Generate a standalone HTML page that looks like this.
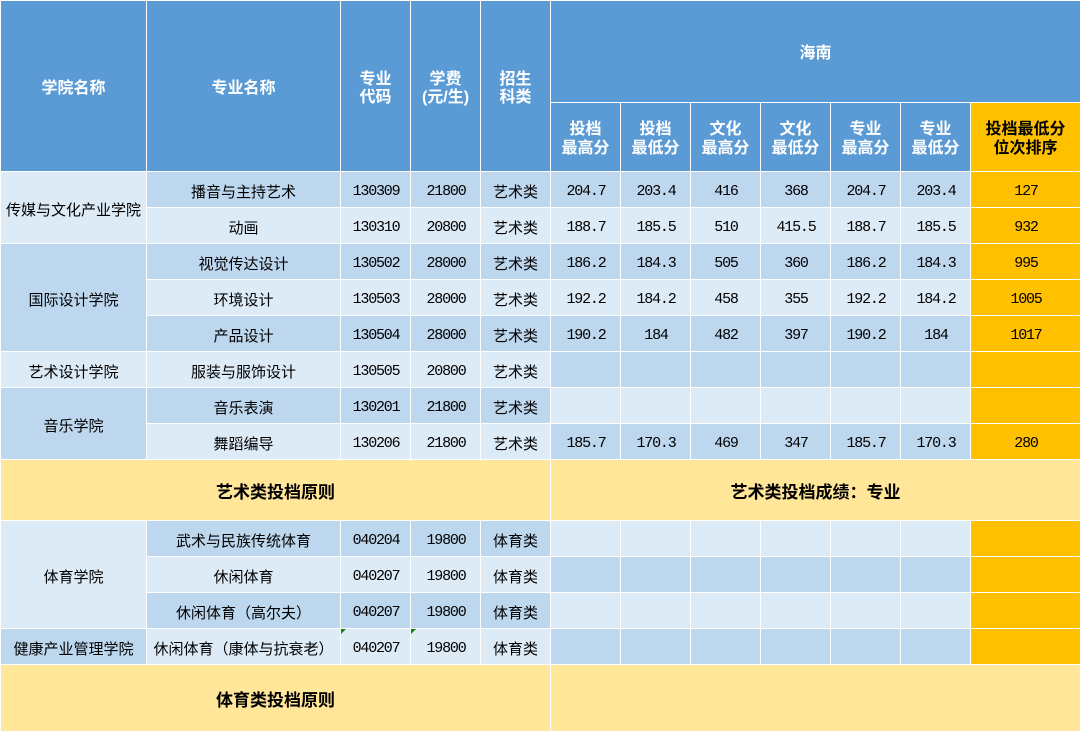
<!DOCTYPE html>
<html><head><meta charset="utf-8">
<style>
html,body{margin:0;padding:0;background:#fff;}
body{width:1081px;height:731px;position:relative;overflow:hidden;}
.c{position:absolute;display:flex;align-items:center;justify-content:center;text-align:center;font-family:"Liberation Sans","Noto Sans CJK SC",sans-serif;font-size:15px;color:#000;box-sizing:border-box;white-space:nowrap;padding-top:3px;}
.h{background:#5B9BD5;color:#fff;font-weight:bold;font-size:16px;line-height:18px;padding-top:5px;}
.s{line-height:19px;padding-top:4px;}
.D{background:#BDD7EE;}
.L{background:#DDEBF7;}
.O{background:#FFC000;}
.Y{background:#FFE699;font-weight:bold;font-size:17px;padding-top:0;}
.n{font-family:"Liberation Mono",monospace;font-size:15px;letter-spacing:-1.2px;padding-top:4px;padding-left:1px;}
.t{position:absolute;width:0;height:0;border-top:5px solid #128012;border-right:5px solid transparent;}
</style></head><body>

<!-- header -->
<div class="c h" style="left:1px;top:1px;width:145px;height:170px">学院名称</div>
<div class="c h" style="left:147px;top:1px;width:193px;height:170px">专业名称</div>
<div class="c h" style="left:341px;top:1px;width:69px;height:170px">专业<br>代码</div>
<div class="c h" style="left:411px;top:1px;width:69px;height:170px">学费<br>(元/生)</div>
<div class="c h" style="left:481px;top:1px;width:69px;height:170px">招生<br>科类</div>
<div class="c h" style="left:551px;top:1px;width:529px;height:101px">海南</div>
<div class="c h s" style="left:551px;top:103px;width:69px;height:68px">投档<br>最高分</div>
<div class="c h s" style="left:621px;top:103px;width:69px;height:68px">投档<br>最低分</div>
<div class="c h s" style="left:691px;top:103px;width:69px;height:68px">文化<br>最高分</div>
<div class="c h s" style="left:761px;top:103px;width:69px;height:68px">文化<br>最低分</div>
<div class="c h s" style="left:831px;top:103px;width:69px;height:68px">专业<br>最高分</div>
<div class="c h s" style="left:901px;top:103px;width:69px;height:68px">专业<br>最低分</div>
<div class="c h s O" style="left:971px;top:103px;width:109px;height:68px;color:#000;">投档最低分<br>位次排序</div>

<!-- college column -->
<div class="c L" style="left:1px;top:172px;width:145px;height:71px">传媒与文化产业学院</div>
<div class="c D" style="left:1px;top:244px;width:145px;height:107px">国际设计学院</div>
<div class="c L" style="left:1px;top:352px;width:145px;height:35px">艺术设计学院</div>
<div class="c D" style="left:1px;top:388px;width:145px;height:71px">音乐学院</div>
<div class="c L" style="left:1px;top:521px;width:145px;height:107px">体育学院</div>
<div class="c D" style="left:1px;top:629px;width:145px;height:35px">健康产业管理学院</div>

<!-- row 1 -->
<div class="c D" style="left:147px;top:172px;width:193px;height:35px">播音与主持艺术</div>
<div class="c D n" style="left:341px;top:172px;width:69px;height:35px">130309</div>
<div class="c D n" style="left:411px;top:172px;width:69px;height:35px">21800</div>
<div class="c D" style="left:481px;top:172px;width:69px;height:35px">艺术类</div>
<div class="c D n" style="left:551px;top:172px;width:69px;height:35px">204.7</div>
<div class="c D n" style="left:621px;top:172px;width:69px;height:35px">203.4</div>
<div class="c D n" style="left:691px;top:172px;width:69px;height:35px">416</div>
<div class="c D n" style="left:761px;top:172px;width:69px;height:35px">368</div>
<div class="c D n" style="left:831px;top:172px;width:69px;height:35px">204.7</div>
<div class="c D n" style="left:901px;top:172px;width:69px;height:35px">203.4</div>
<div class="c O n" style="left:971px;top:172px;width:109px;height:35px">127</div>

<!-- row 2 -->
<div class="c L" style="left:147px;top:208px;width:193px;height:35px">动画</div>
<div class="c L n" style="left:341px;top:208px;width:69px;height:35px">130310</div>
<div class="c L n" style="left:411px;top:208px;width:69px;height:35px">20800</div>
<div class="c L" style="left:481px;top:208px;width:69px;height:35px">艺术类</div>
<div class="c L n" style="left:551px;top:208px;width:69px;height:35px">188.7</div>
<div class="c L n" style="left:621px;top:208px;width:69px;height:35px">185.5</div>
<div class="c L n" style="left:691px;top:208px;width:69px;height:35px">510</div>
<div class="c L n" style="left:761px;top:208px;width:69px;height:35px">415.5</div>
<div class="c L n" style="left:831px;top:208px;width:69px;height:35px">188.7</div>
<div class="c L n" style="left:901px;top:208px;width:69px;height:35px">185.5</div>
<div class="c O n" style="left:971px;top:208px;width:109px;height:35px">932</div>

<!-- row 3 -->
<div class="c D" style="left:147px;top:244px;width:193px;height:35px">视觉传达设计</div>
<div class="c D n" style="left:341px;top:244px;width:69px;height:35px">130502</div>
<div class="c D n" style="left:411px;top:244px;width:69px;height:35px">28000</div>
<div class="c D" style="left:481px;top:244px;width:69px;height:35px">艺术类</div>
<div class="c D n" style="left:551px;top:244px;width:69px;height:35px">186.2</div>
<div class="c D n" style="left:621px;top:244px;width:69px;height:35px">184.3</div>
<div class="c D n" style="left:691px;top:244px;width:69px;height:35px">505</div>
<div class="c D n" style="left:761px;top:244px;width:69px;height:35px">360</div>
<div class="c D n" style="left:831px;top:244px;width:69px;height:35px">186.2</div>
<div class="c D n" style="left:901px;top:244px;width:69px;height:35px">184.3</div>
<div class="c O n" style="left:971px;top:244px;width:109px;height:35px">995</div>

<!-- row 4 -->
<div class="c L" style="left:147px;top:280px;width:193px;height:35px">环境设计</div>
<div class="c L n" style="left:341px;top:280px;width:69px;height:35px">130503</div>
<div class="c L n" style="left:411px;top:280px;width:69px;height:35px">28000</div>
<div class="c L" style="left:481px;top:280px;width:69px;height:35px">艺术类</div>
<div class="c L n" style="left:551px;top:280px;width:69px;height:35px">192.2</div>
<div class="c L n" style="left:621px;top:280px;width:69px;height:35px">184.2</div>
<div class="c L n" style="left:691px;top:280px;width:69px;height:35px">458</div>
<div class="c L n" style="left:761px;top:280px;width:69px;height:35px">355</div>
<div class="c L n" style="left:831px;top:280px;width:69px;height:35px">192.2</div>
<div class="c L n" style="left:901px;top:280px;width:69px;height:35px">184.2</div>
<div class="c O n" style="left:971px;top:280px;width:109px;height:35px">1005</div>

<!-- row 5 -->
<div class="c D" style="left:147px;top:316px;width:193px;height:35px">产品设计</div>
<div class="c D n" style="left:341px;top:316px;width:69px;height:35px">130504</div>
<div class="c D n" style="left:411px;top:316px;width:69px;height:35px">28000</div>
<div class="c D" style="left:481px;top:316px;width:69px;height:35px">艺术类</div>
<div class="c D n" style="left:551px;top:316px;width:69px;height:35px">190.2</div>
<div class="c D n" style="left:621px;top:316px;width:69px;height:35px">184</div>
<div class="c D n" style="left:691px;top:316px;width:69px;height:35px">482</div>
<div class="c D n" style="left:761px;top:316px;width:69px;height:35px">397</div>
<div class="c D n" style="left:831px;top:316px;width:69px;height:35px">190.2</div>
<div class="c D n" style="left:901px;top:316px;width:69px;height:35px">184</div>
<div class="c O n" style="left:971px;top:316px;width:109px;height:35px">1017</div>

<!-- row 6 -->
<div class="c L" style="left:147px;top:352px;width:193px;height:35px">服装与服饰设计</div>
<div class="c L n" style="left:341px;top:352px;width:69px;height:35px">130505</div>
<div class="c L n" style="left:411px;top:352px;width:69px;height:35px">20800</div>
<div class="c L" style="left:481px;top:352px;width:69px;height:35px">艺术类</div>
<div class="c D" style="left:551px;top:352px;width:69px;height:35px"></div>
<div class="c D" style="left:621px;top:352px;width:69px;height:35px"></div>
<div class="c D" style="left:691px;top:352px;width:69px;height:35px"></div>
<div class="c D" style="left:761px;top:352px;width:69px;height:35px"></div>
<div class="c D" style="left:831px;top:352px;width:69px;height:35px"></div>
<div class="c D" style="left:901px;top:352px;width:69px;height:35px"></div>
<div class="c O" style="left:971px;top:352px;width:109px;height:35px"></div>

<!-- row 7 -->
<div class="c D" style="left:147px;top:388px;width:193px;height:35px">音乐表演</div>
<div class="c D n" style="left:341px;top:388px;width:69px;height:35px">130201</div>
<div class="c D n" style="left:411px;top:388px;width:69px;height:35px">21800</div>
<div class="c D" style="left:481px;top:388px;width:69px;height:35px">艺术类</div>
<div class="c L" style="left:551px;top:388px;width:69px;height:35px"></div>
<div class="c L" style="left:621px;top:388px;width:69px;height:35px"></div>
<div class="c L" style="left:691px;top:388px;width:69px;height:35px"></div>
<div class="c L" style="left:761px;top:388px;width:69px;height:35px"></div>
<div class="c L" style="left:831px;top:388px;width:69px;height:35px"></div>
<div class="c L" style="left:901px;top:388px;width:69px;height:35px"></div>
<div class="c O" style="left:971px;top:388px;width:109px;height:35px"></div>

<!-- row 8 -->
<div class="c L" style="left:147px;top:424px;width:193px;height:35px">舞蹈编导</div>
<div class="c L n" style="left:341px;top:424px;width:69px;height:35px">130206</div>
<div class="c L n" style="left:411px;top:424px;width:69px;height:35px">21800</div>
<div class="c L" style="left:481px;top:424px;width:69px;height:35px">艺术类</div>
<div class="c D n" style="left:551px;top:424px;width:69px;height:35px">185.7</div>
<div class="c D n" style="left:621px;top:424px;width:69px;height:35px">170.3</div>
<div class="c D n" style="left:691px;top:424px;width:69px;height:35px">469</div>
<div class="c D n" style="left:761px;top:424px;width:69px;height:35px">347</div>
<div class="c D n" style="left:831px;top:424px;width:69px;height:35px">185.7</div>
<div class="c D n" style="left:901px;top:424px;width:69px;height:35px">170.3</div>
<div class="c O n" style="left:971px;top:424px;width:109px;height:35px">280</div>

<!-- banner 1 -->
<div class="c Y" style="left:1px;top:460px;width:549px;height:60px">艺术类投档原则</div>
<div class="c Y" style="left:551px;top:460px;width:529px;height:60px">艺术类投档成绩：专业</div>

<!-- row 9 -->
<div class="c D" style="left:147px;top:521px;width:193px;height:35px">武术与民族传统体育</div>
<div class="c D n" style="left:341px;top:521px;width:69px;height:35px">040204</div>
<div class="c D n" style="left:411px;top:521px;width:69px;height:35px">19800</div>
<div class="c D" style="left:481px;top:521px;width:69px;height:35px">体育类</div>
<div class="c L" style="left:551px;top:521px;width:69px;height:35px"></div>
<div class="c L" style="left:621px;top:521px;width:69px;height:35px"></div>
<div class="c L" style="left:691px;top:521px;width:69px;height:35px"></div>
<div class="c L" style="left:761px;top:521px;width:69px;height:35px"></div>
<div class="c L" style="left:831px;top:521px;width:69px;height:35px"></div>
<div class="c L" style="left:901px;top:521px;width:69px;height:35px"></div>
<div class="c O" style="left:971px;top:521px;width:109px;height:35px"></div>

<!-- row 10 -->
<div class="c L" style="left:147px;top:557px;width:193px;height:35px">休闲体育</div>
<div class="c L n" style="left:341px;top:557px;width:69px;height:35px">040207</div>
<div class="c L n" style="left:411px;top:557px;width:69px;height:35px">19800</div>
<div class="c L" style="left:481px;top:557px;width:69px;height:35px">体育类</div>
<div class="c D" style="left:551px;top:557px;width:69px;height:35px"></div>
<div class="c D" style="left:621px;top:557px;width:69px;height:35px"></div>
<div class="c D" style="left:691px;top:557px;width:69px;height:35px"></div>
<div class="c D" style="left:761px;top:557px;width:69px;height:35px"></div>
<div class="c D" style="left:831px;top:557px;width:69px;height:35px"></div>
<div class="c D" style="left:901px;top:557px;width:69px;height:35px"></div>
<div class="c O" style="left:971px;top:557px;width:109px;height:35px"></div>

<!-- row 11 -->
<div class="c D" style="left:147px;top:593px;width:193px;height:35px">休闲体育（高尔夫）</div>
<div class="c D n" style="left:341px;top:593px;width:69px;height:35px">040207</div>
<div class="c D n" style="left:411px;top:593px;width:69px;height:35px">19800</div>
<div class="c D" style="left:481px;top:593px;width:69px;height:35px">体育类</div>
<div class="c L" style="left:551px;top:593px;width:69px;height:35px"></div>
<div class="c L" style="left:621px;top:593px;width:69px;height:35px"></div>
<div class="c L" style="left:691px;top:593px;width:69px;height:35px"></div>
<div class="c L" style="left:761px;top:593px;width:69px;height:35px"></div>
<div class="c L" style="left:831px;top:593px;width:69px;height:35px"></div>
<div class="c L" style="left:901px;top:593px;width:69px;height:35px"></div>
<div class="c O" style="left:971px;top:593px;width:109px;height:35px"></div>

<!-- row 12 -->
<div class="c L" style="left:147px;top:629px;width:193px;height:35px">休闲体育（康体与抗衰老）</div>
<div class="c L n" style="left:341px;top:629px;width:69px;height:35px">040207</div>
<div class="c L n" style="left:411px;top:629px;width:69px;height:35px">19800</div>
<div class="c L" style="left:481px;top:629px;width:69px;height:35px">体育类</div>
<div class="c D" style="left:551px;top:629px;width:69px;height:35px"></div>
<div class="c D" style="left:621px;top:629px;width:69px;height:35px"></div>
<div class="c D" style="left:691px;top:629px;width:69px;height:35px"></div>
<div class="c D" style="left:761px;top:629px;width:69px;height:35px"></div>
<div class="c D" style="left:831px;top:629px;width:69px;height:35px"></div>
<div class="c D" style="left:901px;top:629px;width:69px;height:35px"></div>
<div class="c O" style="left:971px;top:629px;width:109px;height:35px"></div>
<div class="t" style="left:341px;top:629px"></div>
<div class="t" style="left:411px;top:629px"></div>

<!-- banner 2 -->
<div class="c Y" style="left:1px;top:665px;width:549px;height:66px">体育类投档原则</div>
<div class="c Y" style="left:551px;top:665px;width:529px;height:66px"></div>

</body></html>
